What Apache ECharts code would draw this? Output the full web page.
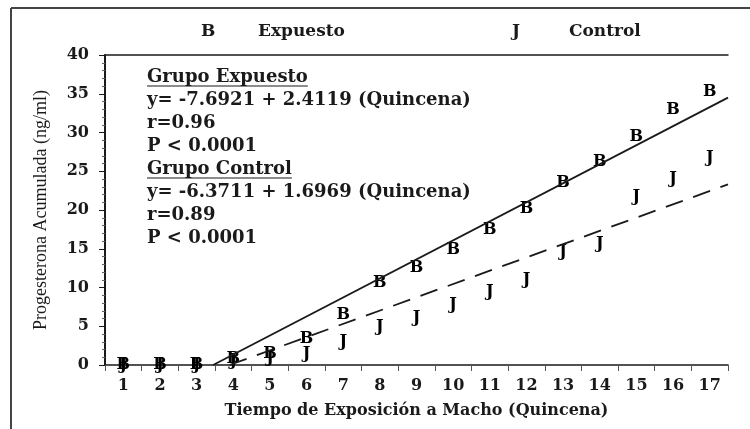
<!DOCTYPE html>
<html>
<head>
<meta charset="utf-8">
<title>Progesterona acumulada</title>
<script src="https://cdn.jsdelivr.net/npm/echarts@6/dist/echarts.min.js"></script>
<style>
html, body { margin: 0; padding: 0; background: #fff; }
#main { width: 750px; height: 429px; }
</style>
</head>
<body>
<div id="main"></div>
<script>
// quincenas (eje x)
var quincenas = ['1', '2', '3', '4', '5', '6', '7', '8', '9', '10', '11', '12', '13', '14', '15', '16', '17'];
// progesterona acumulada (ng/ml)
var expuesto = [0, 0, 0, 0.8, 1.5, 3.4, 6.5, 10.6, 12.6, 14.8, 17.4, 20.1, 23.5, 26.2, 29.4, 32.9, 35.2];
var control = [0, 0, 0, 0.5, 0.9, 1.5, 3.0, 4.9, 6.1, 7.7, 9.4, 11.0, 14.6, 15.6, 21.7, 24.0, 26.7];
// extremos de las rectas de regresion [quincena, ng/ml]
var rectaExpuesto = [[3.45, 0], [17.5, 34.5]];
var rectaControl = [[3.9, 0], [17.5, 23.3]];
// marcas de la leyenda
var marcas = { 'Expuesto' : 'B', 'Control' : 'J' };
// texto del recuadro
var textoExpuesto = ['Grupo Expuesto', 'y= -7.6921 + 2.4119 (Quincena)', 'r=0.96', 'P < 0.0001'];
var textoControl = ['Grupo Control', 'y= -6.3711 + 1.6969 (Quincena)', 'r=0.89', 'P < 0.0001'];

var SERIF = '"DejaVu Serif", serif';
var INK = '#1a1a1a';

var grafico = {
    chart : null,
    /**
     * inicializar
     */
    init : function() {
        this.chart = echarts.init(document.getElementById('main'), null, { renderer : 'canvas' });
        this.chart.setOption(this.getOption());
    },
    /**
     * ancho de un texto (para subrayar)
     */
    textWidth : function(txt, font) {
        var ctx = document.createElement('canvas').getContext('2d');
        ctx.font = font;
        return ctx.measureText(txt).width;
    },
    /**
     * recuadro con ecuaciones
     */
    getGraphic : function() {
        var font = 'bold 18px ' + SERIF;
        var x0 = 147, y0 = 77, paso = 23;
        var lineas = textoExpuesto.concat(textoControl);
        var els = [];
        // marco exterior
        els.push({ type : 'line', shape : { x1 : 11, y1 : 8, x2 : 750, y2 : 8 }, style : { stroke : '#444', lineWidth : 2 } });
        els.push({ type : 'line', shape : { x1 : 11, y1 : 8, x2 : 11, y2 : 429 }, style : { stroke : '#444', lineWidth : 2 } });
        for (var i = 0; i < lineas.length; i++) {
            var y = y0 + i * paso;
            els.push({
                type : 'text',
                x : x0,
                y : y,
                style : { text : lineas[i], font : font, fill : INK, verticalAlign : 'middle' }
            });
            if (i == 0 || i == textoExpuesto.length) {
                var w = this.textWidth(lineas[i], font);
                els.push({
                    type : 'line',
                    shape : { x1 : x0, y1 : y + 9, x2 : x0 + w, y2 : y + 9 },
                    style : { stroke : INK, lineWidth : 1.2 }
                });
            }
        }
        return els;
    },
    getOption : function() {
        var etiqueta = function(letra) {
            return {
                show : true,
                position : 'inside',
                formatter : letra,
                color : '#000',
                textBorderWidth : 0,
                opacity : 1,
                fontFamily : SERIF,
                fontWeight : 'bold',
                fontSize : 16
            };
        };
        return {
            animation : false,
            backgroundColor : '#fff',
            grid : { left : 105, right : 22, top : 55, bottom : 64 },
            legend : {
                data : ['Expuesto', 'Control'],
                left : 191,
                top : 18,
                icon : 'rect',
                itemWidth : 0,
                itemHeight : 0,
                itemGap : 162,
                selectedMode : false,
                formatter : function(name) {
                    return '{m|' + marcas[name] + '}{t|' + name + '}';
                },
                textStyle : {
                    rich : {
                        m : { width : 57, fontFamily : SERIF, fontWeight : 'bold', fontSize : 17, color : INK },
                        t : { fontFamily : SERIF, fontWeight : 'bold', fontSize : 17, color : INK }
                    }
                }
            },
            xAxis : [ {
                type : 'category',
                data : quincenas,
                boundaryGap : true,
                name : 'Tiempo de Exposición a Macho (Quincena)',
                nameLocation : 'middle',
                nameGap : 38,
                nameTextStyle : { fontFamily : SERIF, fontWeight : 'bold', fontSize : 16, color : INK },
                axisLine : { lineStyle : { color : INK, width : 1.5 } },
                axisTick : { show : true, length : 6, lineStyle : { color : '#555' } },
                axisLabel : { margin : 13, fontFamily : SERIF, fontWeight : 'bold', fontSize : 16, color : INK },
                splitLine : { show : false }
            }, {
                type : 'value',
                position : 'top',
                min : 0.5,
                max : 17.5,
                axisLine : { show : true, onZero : false, lineStyle : { color : INK, width : 1.5 } },
                axisTick : { show : false },
                axisLabel : { show : false },
                splitLine : { show : false }
            } ],
            yAxis : {
                type : 'value',
                min : 0,
                max : 40,
                interval : 5,
                name : 'Progesterona Acumulada (ng/ml)',
                nameLocation : 'middle',
                nameGap : 55,
                nameTextStyle : { fontFamily : '"Liberation Serif", serif', fontSize : 18, color : INK },
                axisLine : { show : true, lineStyle : { color : INK, width : 2 } },
                axisTick : { show : true, length : 6, lineStyle : { color : INK } },
                minorTick : { show : true, splitNumber : 5, length : 3, lineStyle : { color : '#666' } },
                axisLabel : { margin : 16, fontFamily : SERIF, fontWeight : 'bold', fontSize : 16, color : INK },
                splitLine : { show : false }
            },
            graphic : this.getGraphic(),
            series : [ {
                name : 'Expuesto',
                type : 'scatter',
                xAxisIndex : 0,
                data : expuesto,
                symbolSize : 2,
                itemStyle : { color : 'rgba(0,0,0,0)' },
                label : etiqueta('B'),
                emphasis : { disabled : true }
            }, {
                name : 'Control',
                type : 'scatter',
                xAxisIndex : 0,
                data : control,
                symbolSize : 2,
                itemStyle : { color : 'rgba(0,0,0,0)' },
                label : etiqueta('J'),
                emphasis : { disabled : true }
            }, {
                name : 'Recta Expuesto',
                type : 'line',
                xAxisIndex : 1,
                data : rectaExpuesto,
                showSymbol : false,
                silent : true,
                lineStyle : { color : INK, width : 1.8 }
            }, {
                name : 'Recta Control',
                type : 'line',
                xAxisIndex : 1,
                data : rectaControl,
                showSymbol : false,
                silent : true,
                lineStyle : { color : INK, width : 1.8, type : [18, 11] }
            } ]
        };
    }
};

grafico.init();
</script>
</body>
</html>
